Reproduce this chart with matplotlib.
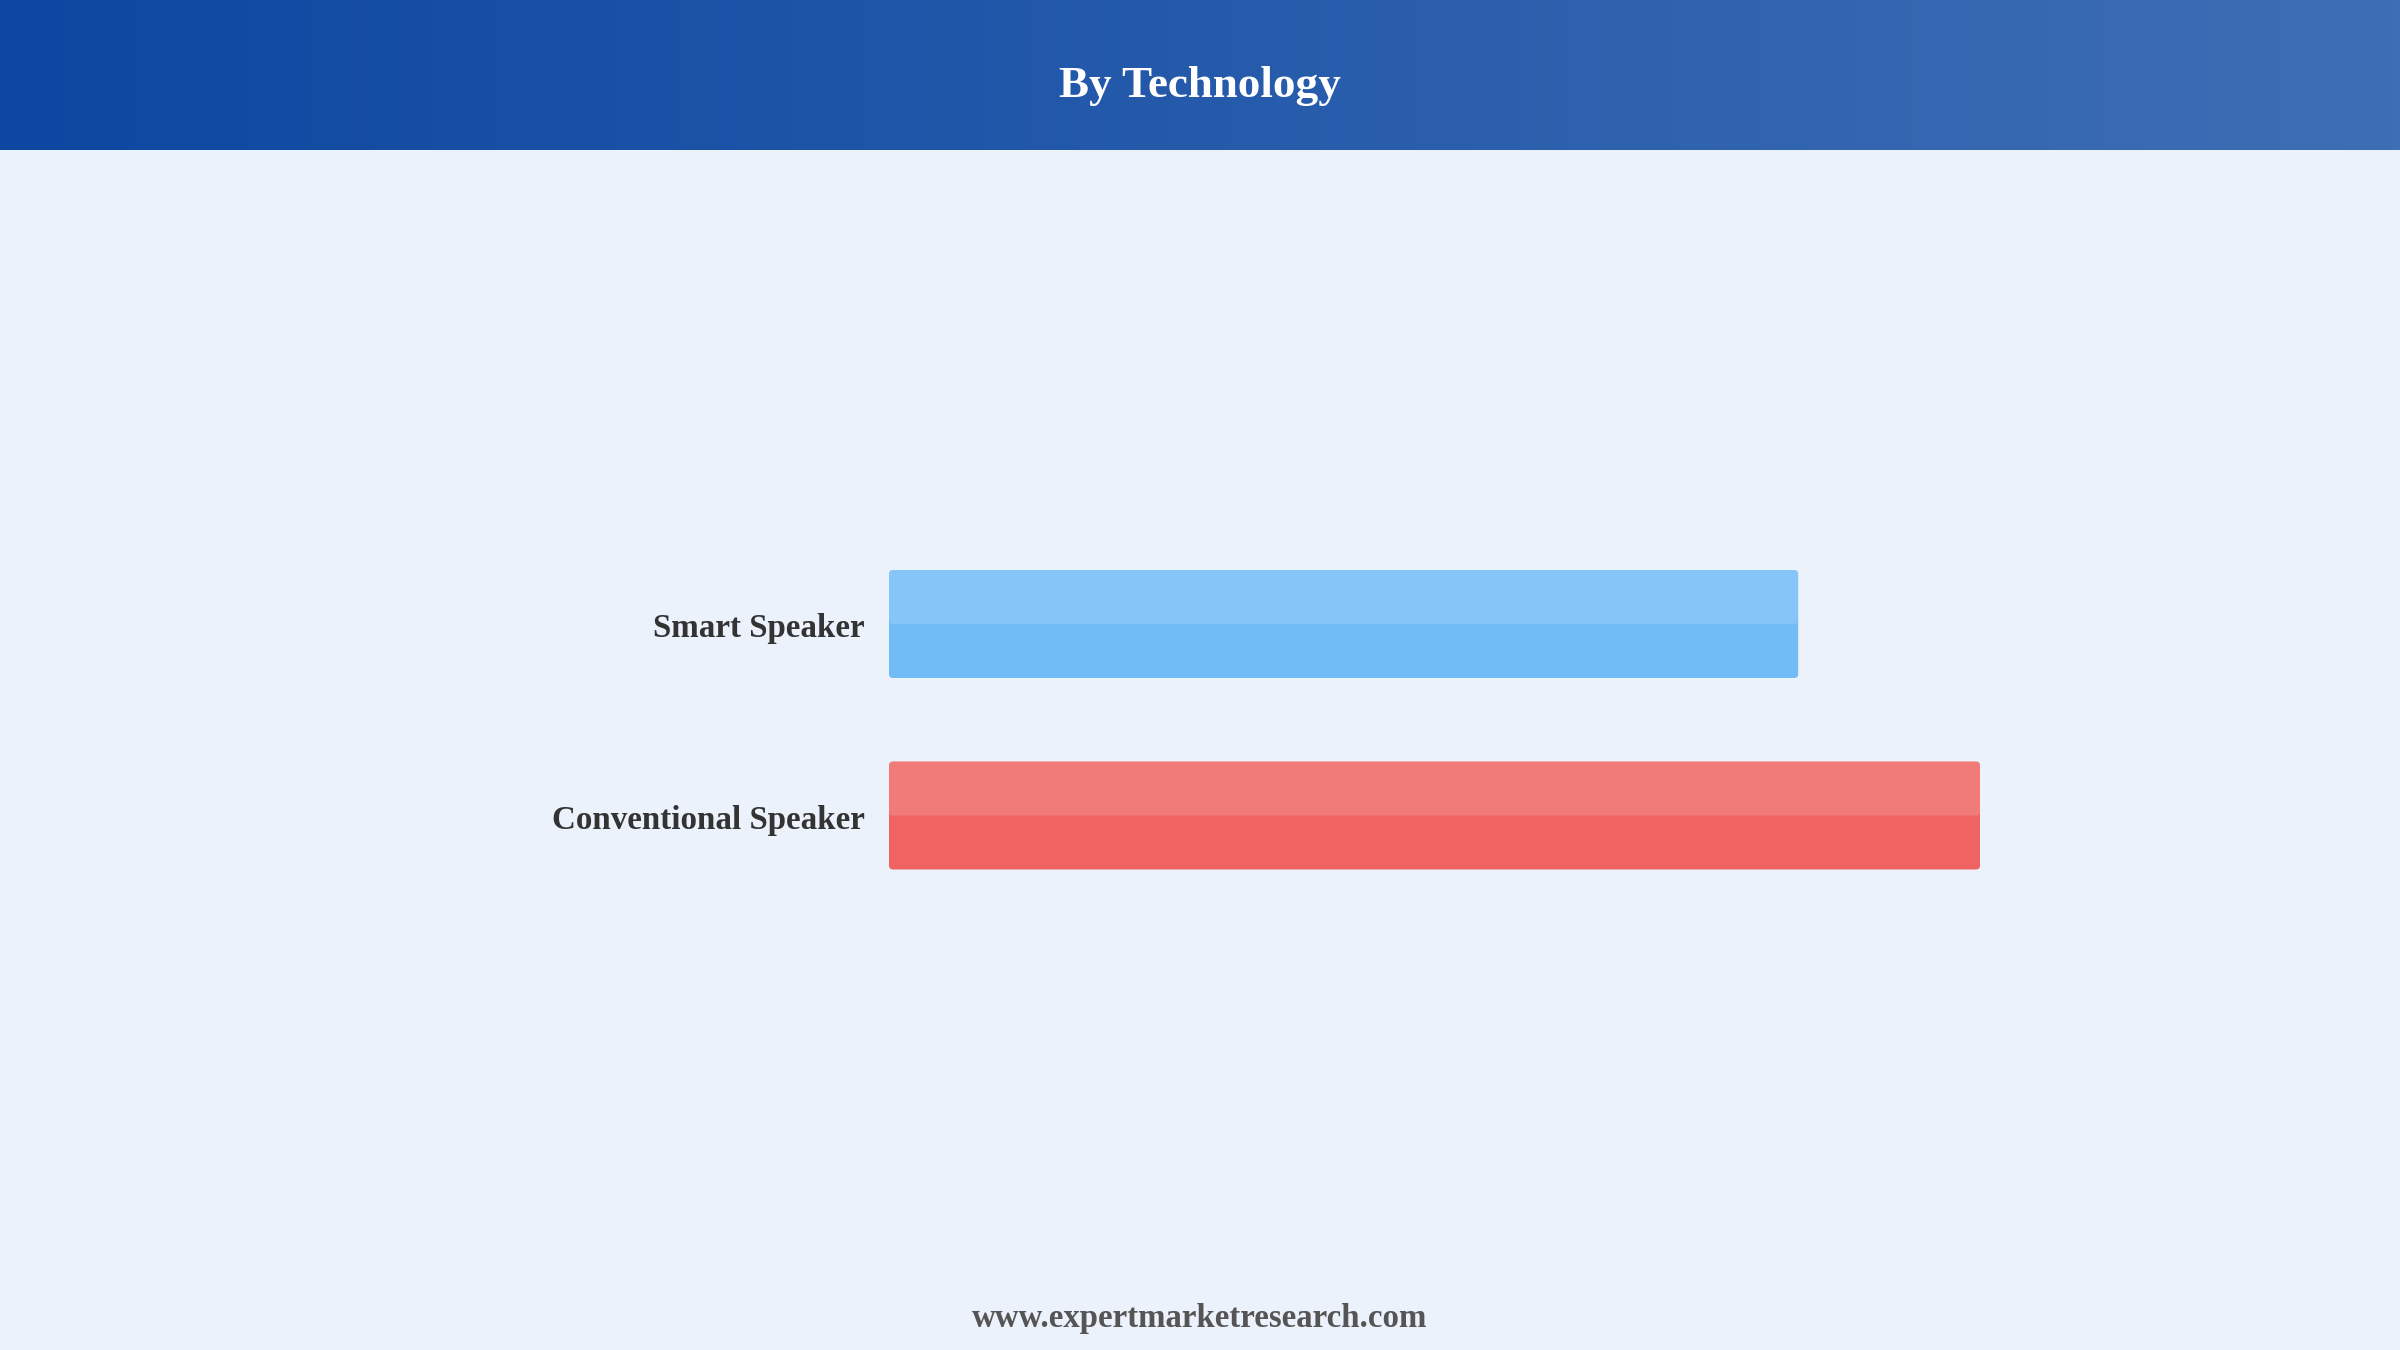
import numpy as np
import matplotlib
matplotlib.use("Agg")
import matplotlib.pyplot as plt
from matplotlib.patches import FancyBboxPatch

plt.rcParams["font.family"] = ["Liberation Serif", "DejaVu Serif"]

# data
categories = ["Smart Speaker", "Conventional Speaker"]
values = [45, 54]
bar_colors = ["#71BBF6", "#EF6462"]

title = "By Technology"
footer = "www.expertmarketresearch.com"

W, H = 2400, 1350
BG = "#EBF2FC"

fig = plt.figure(figsize=(W / 100, H / 100), dpi=100)
fig.patch.set_facecolor(BG)

# header band with horizontal gradient
hdr_h = 150
hax = fig.add_axes([0, 1 - hdr_h / H, 1, hdr_h / H])
left = np.array([13, 71, 161]) / 255
right = np.array([62, 110, 181]) / 255
t = np.linspace(0, 1, 256)
grad = (left[None, :] * (1 - t[:, None]) + right[None, :] * t[:, None])[None, :, :]
hax.imshow(grad, aspect="auto", extent=[0, 1, 0, 1])
hax.axis("off")
fig.text(0.5, 1 - 97 / H, title, ha="center", va="baseline", color="white",
         fontsize=32.5, fontweight="bold")

# bar area: x 889..1980 px maps to 0..max(values); rows spaced 191.5 px
x0, x1 = 889, 1980
y_top, y_bot = 432.5, 1007
ax = fig.add_axes([x0 / W, 1 - y_bot / H, (x1 - x0) / W, (y_bot - y_top) / H])
ax.set_xlim(0, max(values))
ax.set_ylim(2, -1)
ax.axis("off")

px_x = max(values) / (x1 - x0)       # data units per px in x
px_y = 3 / (y_bot - y_top)           # data units per px in y
r = 4 * px_x
aspect = px_y / px_x
bh = 108 * px_y

for i, (cat, v, c) in enumerate(zip(categories, values, bar_colors)):
    ax.add_patch(FancyBboxPatch((0, i - bh / 2), v, bh,
                                boxstyle=f"round,pad=0,rounding_size={r}",
                                mutation_aspect=aspect, fc=c, ec="none"))
    ax.add_patch(FancyBboxPatch((0, i - bh / 2), v, bh / 2,
                                boxstyle=f"round,pad=0,rounding_size={r}",
                                mutation_aspect=aspect, fc="white", alpha=0.15,
                                ec="none"))
    ax.text(-24 * px_x, i + 13 * px_y, cat, ha="right", va="baseline",
            fontsize=23.8, fontweight="bold", color="#333333", clip_on=False)

fig.text(0.5, 1 - 1327 / H, footer, ha="center", va="baseline",
         fontsize=23.7, fontweight="bold", color="#555555")

fig.savefig("out.png", dpi=100, facecolor=BG)
